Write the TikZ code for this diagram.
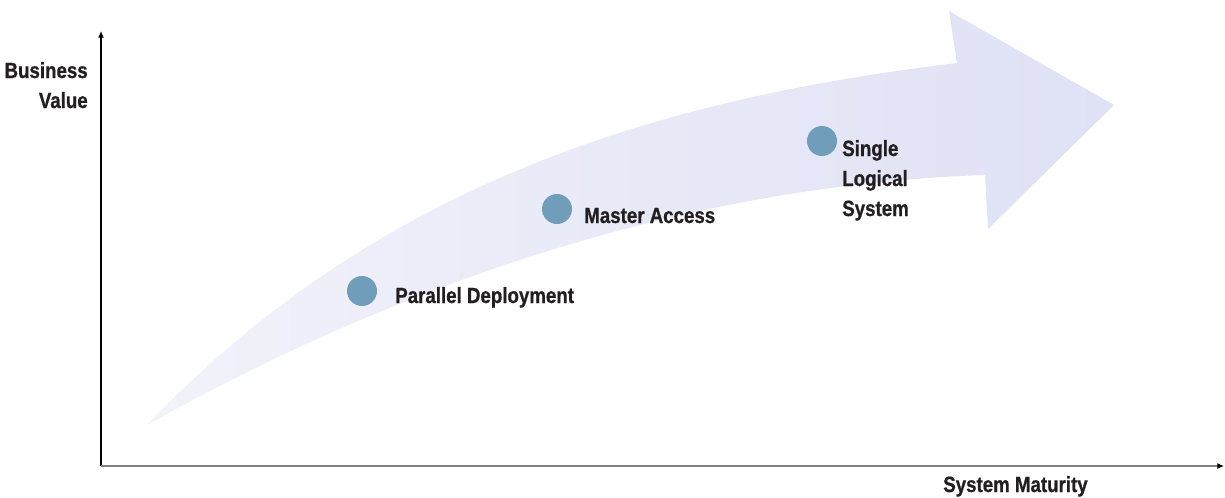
\documentclass[tikz,border=0pt]{standalone}
\usepackage{fontspec}
\setmainfont{Liberation Sans}[FakeStretch=0.85, BoldFeatures={FakeBold=0.8}]
\usetikzlibrary{arrows.meta}
\definecolor{bandleft}{RGB}{242,242,250}
\definecolor{bandright}{RGB}{223,225,245}
\definecolor{dotblue}{RGB}{112,158,186}
\definecolor{axisgray}{RGB}{128,128,128}
\definecolor{labelink}{RGB}{35,31,32}
\begin{document}
\begin{tikzpicture}[x=0.75pt,y=-0.75pt,
  lbl/.style={font=\fontsize{16.5}{22.5}\selectfont\bfseries, text=labelink, inner sep=0pt},
  dot/.style={circle, fill=dotblue, minimum size=22.5pt, inner sep=0pt},
  axisline/.style={line width=0.9pt, -{Latex[length=5pt,width=4.5pt,color=black]}}
]
\useasboundingbox (0,0) rectangle (1225,497);

% curved growth arrow
\shade[left color=bandleft, right color=bandright]
  (147,425) .. controls (377,183.5) and (657,99) .. (957,63)
  -- (949,11) -- (1114,105) -- (988,229) -- (985,175)
  .. controls (685,185) and (397,285) .. (147,425) -- cycle;

% axes
\coordinate (origin) at (101,466);
\coordinate (ytop) at (101,31);
\coordinate (xend) at (1224,466);
\draw[axisline, draw=black] (origin) -- (ytop);
\draw[axisline, draw=axisgray] (origin) -- (xend);

% milestones
\node[dot] (p1) at (362,291) {};
\node[dot] (p2) at (557,209) {};
\node[dot] (p3) at (822,141) {};

\node[lbl, anchor=base west] (l1) at (395,303) {Parallel Deployment};
\node[lbl, anchor=base west] (l2) at (584,223) {Master Access};
\node[lbl, anchor=base west, align=left] (l3) at (842,216) {Single\\Logical\\System};

% axis titles
\node[lbl, anchor=base east, align=right] (yl) at (88,108) {Business\\Value};
\node[lbl, anchor=base west] (xl) at (943,492) {System Maturity};
\end{tikzpicture}
\end{document}
